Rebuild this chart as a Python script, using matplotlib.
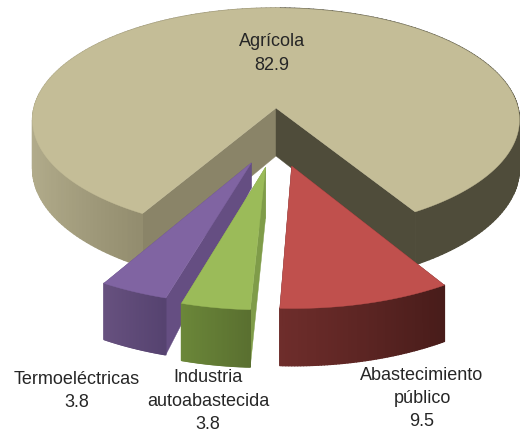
#!/usr/bin/env python3

import numpy as np
import matplotlib
matplotlib.use("Agg")
import matplotlib.pyplot as plt
from matplotlib.collections import PolyCollection
from matplotlib.colors import to_rgb
from matplotlib.patches import Polygon

#data
labels = ["Abastecimiento\npúblico", "Industria\nautoabastecida", "Termoeléctricas", "Agrícola"]
values = [9.5, 3.8, 3.8, 82.9]

#styles, same order as the data
top_colors = ["#c0504d", "#9bbb59", "#8064a2", "#c4bd97"]
wall_colors = [("#5c2524", "#5c2524"), ("#7f9c49", "#7f9c49"), ("#654e82", "#654e82"), ("#8a8468", "#4f4c3a")]
rim_left = ["#6e2d2b", "#6b8739", "#67517f", "#b3ad8c"]
rim_right = ["#481c1a", "#5a7030", "#564370", "#4f4c3a"]
exploded = [True, True, True, False]
apex_depth = [1.0, 1.0, 0.5, 1.0]
label_pos = [(422, 398.5), (208, 401), (77, 391), (272, 53.5)]
draw_order = [3, 0, 2, 1]

#projection of the tilted disk
CX, CY = 276, 108
RX, RY = 242, 110.7
K = 0.107
DEPTH = 48
START = 31.5
EXPLODE = 0.513
EXPLODE_X = 0.48
EXPLODE_R = 1.02


def project(u, v, z=0.0):
    s = 1 / (1 - K * v)
    return CX + RX * u * s, CY + RY * v * s + z * s


def slice_offset(a0, a1, is_exploded):
    if not is_exploded:
        return 0.0, 0.0
    mid = np.radians((a0 + a1) / 2)
    return EXPLODE * EXPLODE_X * np.sin(mid), EXPLODE * np.cos(mid)


def mix(c0, c1, t):
    return tuple(np.array(to_rgb(c0)) * (1 - t) + np.array(to_rgb(c1)) * t)


def draw_slice(ax, i, a0, a1):
    du, dv = slice_offset(a0, a1, exploded[i])
    n = 240 if not exploded[i] else 60
    r = EXPLODE_R if exploded[i] else 1.0
    ang = np.radians(np.linspace(a0, a1, n))
    u = du + r * np.sin(ang)
    v = dv + r * np.cos(ang)

    # the two cut faces
    apex_top = project(du, dv)
    apex_bot = project(du, dv, DEPTH * apex_depth[i])
    ends = [(u[0], v[0], wall_colors[i][0]), (u[-1], v[-1], wall_colors[i][1])]
    for ue, ve, col in ends:
        ax.add_patch(Polygon([apex_top, project(ue, ve), project(ue, ve, DEPTH), apex_bot],
                             closed=True, facecolor=col, edgecolor=col, linewidth=0.3))

    # rim, back parts end up under the top
    idx = np.argsort(v[:-1] + v[1:])
    quads = []
    colors = []
    for j in idx:
        p0 = project(u[j], v[j])
        p1 = project(u[j + 1], v[j + 1])
        p2 = project(u[j + 1], v[j + 1], DEPTH)
        p3 = project(u[j], v[j], DEPTH)
        quads.append([p0, p1, p2, p3])
        if exploded[i]:
            t = j / (len(ang) - 2)
            colors.append(mix(rim_right[i], rim_left[i], t))
        elif u[j] > 0:
            colors.append(to_rgb(rim_right[i]))
        else:
            colors.append(mix(rim_left[i], "#938d6f", (u[j] + 1) / 0.5 if u[j] < -0.5 else 1.0))
    ax.add_collection(PolyCollection(quads, facecolors=colors, edgecolors=colors, linewidths=1.0))

    # top face
    xs, ys = project(u, v)
    pts = [apex_top] + list(zip(xs, ys))
    ax.add_patch(Polygon(pts, closed=True, facecolor=top_colors[i], edgecolor=top_colors[i], linewidth=0.3))


def main():
    plt.rcParams["font.family"] = ["Liberation Sans", "DejaVu Sans"]
    fig = plt.figure(figsize=(5.2, 4.33), dpi=100)
    ax = fig.add_axes([0, 0, 1, 1])
    ax.set_xlim(0, 520)
    ax.set_ylim(433, 0)
    ax.axis("off")

    limits = START - np.cumsum([0] + [val * 3.6 for val in values])
    for i in draw_order:
        draw_slice(ax, i, limits[i], limits[i + 1])

    for name, val, pos in zip(labels, values, label_pos):
        ax.text(pos[0], pos[1], name + "\n" + str(val), ha="center", va="center",
                fontsize=13, color="#262626", linespacing=1.5)

    fig.savefig("out.png", dpi=100)


if __name__ == "__main__":
    main()
